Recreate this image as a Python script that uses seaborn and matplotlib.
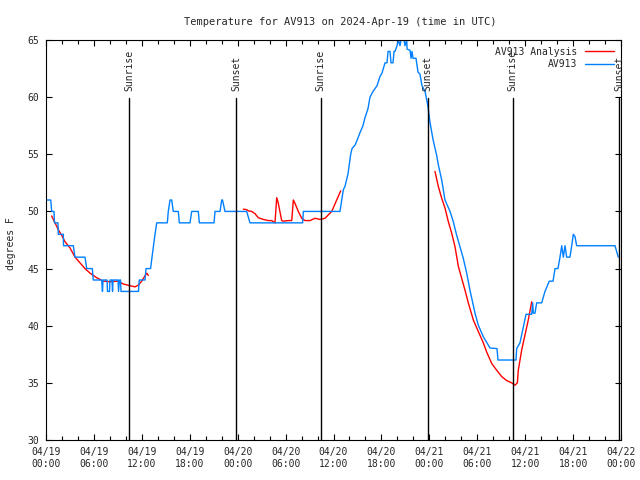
import numpy as np
import pandas as pd
import matplotlib
matplotlib.use("Agg")
import matplotlib.pyplot as plt
import seaborn as sns

# hours since 2024-04-19 00:00 UTC
obs_hours = [0.09, 0.59, 0.71, 1.00, 1.06, 1.50, 1.54, 2.17, 2.19, 3.42, 3.63, 4.88, 5.10, 5.80,
             5.92, 6.97, 7.07, 7.14, 7.64, 7.70, 7.95, 8.01, 8.26, 8.33, 8.39, 9.02, 9.08, 9.20,
             9.33, 9.39, 11.58, 11.68, 12.40, 12.52, 13.09, 13.27, 13.46, 13.65, 13.86, 15.19,
             15.31, 15.53, 15.74, 15.94, 16.57, 16.69, 18.03, 18.24, 19.07, 19.20, 21.04, 21.16,
             21.79, 22.00, 22.10, 22.41, 25.13, 25.54, 32.14, 32.22, 36.81, 37.03, 37.23, 37.44,
             37.82, 38.15, 38.32, 38.69, 38.94, 39.32, 39.69, 39.94, 40.32, 40.57, 40.95, 41.45,
             41.82, 42.07, 42.45, 42.70, 42.83, 43.08, 43.20, 43.45, 43.58, 43.70, 43.95, 44.12,
             44.33, 44.45, 44.83, 44.95, 45.17, 45.21, 45.58, 45.71, 45.83, 45.96, 46.33, 46.58,
             46.83, 47.08, 47.46, 47.83, 48.08, 48.46, 48.92, 49.12, 49.55, 49.96, 50.59, 51.00,
             51.43, 51.84, 52.25, 52.68, 53.09, 53.72, 54.13, 54.76, 55.60, 56.47, 56.60, 58.85,
             58.94, 59.35, 59.77, 60.11, 60.82, 60.94, 61.02, 61.23, 61.44, 62.07, 62.48, 63.02,
             63.49, 63.74, 64.11, 64.36, 64.58, 64.78, 64.99, 65.20, 65.61, 65.83, 66.03, 66.24,
             66.45, 71.25, 71.46, 71.66]
obs_temp = [51, 51, 50, 50, 49, 49, 48, 48, 47, 47, 46, 46, 45, 45,
            44, 44, 43, 44, 44, 43, 43, 44, 44, 43, 44, 44, 43, 44,
            44, 43, 43, 44, 44, 45, 45, 46, 47, 48, 49, 49,
            50, 51, 51, 50, 50, 49, 49, 50, 50, 49, 49, 50,
            50, 51, 51, 50, 50, 49, 49, 50, 50, 51, 51.9, 52.2,
            53.3, 55, 55.5, 55.8, 56.2, 56.9, 57.5, 58.2, 59, 60, 60.5, 61,
            61.8, 62.1, 63, 63, 64, 64, 63, 63, 64, 64, 64.5, 65,
            64.5, 65, 65, 64.5, 65, 64.2, 64.1, 63.4, 64, 63.4, 63.4, 62.2,
            62, 61, 60.5, 59.2, 57.8, 56.3, 54.9, 54.1, 52.75, 51, 50, 49.1,
            47.9, 46.9, 45.9, 44.6, 43.1, 41.1, 40.05, 39.04, 38.05, 38, 37, 37,
            38, 38.5, 39.9, 41, 41, 42, 41.1, 41.1, 42, 42, 43, 43.9,
            43.9, 45, 45, 46, 47, 46, 47, 46, 46, 47, 48, 47.8,
            47, 47, 46.5, 46]

ana_hours_1 = [0.71, 1.13, 1.54, 1.97, 2.38, 3.01, 3.63, 4.26, 4.88, 5.51, 6.35, 7.18, 8.01,
               9.05, 9.68, 10.52, 11.14, 11.56, 11.98, 12.61, 12.81]
ana_temp_1 = [49.6, 49, 48.4, 47.9, 47.35, 46.8, 46.0, 45.5, 45.0, 44.6, 44.2, 43.9, 43.85,
              43.9, 43.65, 43.5, 43.4, 43.55, 43.9, 44.6, 44.4]
ana_hours_2 = [24.71, 25.13, 25.33, 25.76, 26.17, 26.58, 27.21, 27.84, 28.26, 28.67, 28.89, 29.09,
               29.51, 29.71, 30.34, 30.77, 30.97, 31.18, 31.59, 32.02, 32.43, 33.06, 33.68, 34.31,
               34.94, 35.35, 35.78, 36.40, 36.90]
ana_temp_2 = [50.2, 50.15, 50.05, 50, 49.8, 49.45, 49.3, 49.2, 49.2, 49.0, 51.2, 50.7,
              49.2, 49.15, 49.2, 49.2, 51.0, 50.7, 50, 49.4, 49.2, 49.2, 49.4, 49.3,
              49.4, 49.7, 50, 51, 51.8]
ana_hours_3 = [48.71, 49.12, 49.55, 49.96, 50.38, 50.80, 51.22, 51.63, 52.05, 52.47, 52.88, 53.51,
               54.13, 54.76, 55.18, 55.81, 56.44, 57.06, 57.69, 58.32, 58.73, 59.02, 59.14, 59.57,
               59.98, 60.39, 60.82]
ana_temp_3 = [53.5, 52.2, 51.15, 50.3, 49.1, 48.1, 46.9, 45.2, 44.15, 43.1, 42, 40.5,
              39.5, 38.5, 37.7, 36.7, 36.1, 35.55, 35.2, 35.0, 34.8, 35.0, 36.1, 37.9,
              39.2, 40.5, 42.1]

sun_hours = [10.39, 23.79, 34.39, 47.79, 58.44, 71.80]
sun_labels = ["Sunrise", "Sunset", "Sunrise", "Sunset", "Sunrise", "Sunset"]

tick_hours = list(range(0, 73, 6))
tick_labels = ["04/19\n00:00", "04/19\n06:00", "04/19\n12:00", "04/19\n18:00",
               "04/20\n00:00", "04/20\n06:00", "04/20\n12:00", "04/20\n18:00",
               "04/21\n00:00", "04/21\n06:00", "04/21\n12:00", "04/21\n18:00",
               "04/22\n00:00"]

sns.set_style("ticks", {"xtick.direction": "in", "ytick.direction": "in"})
plt.rcParams["font.family"] = ["DejaVu Sans Mono", "DejaVu Sans"]

obs = pd.DataFrame({"hour": obs_hours, "temp": obs_temp})
ana = pd.concat([
    pd.DataFrame({"hour": h, "temp": t, "seg": i})
    for i, (h, t) in enumerate([(ana_hours_1, ana_temp_1), (ana_hours_2, ana_temp_2),
                                (ana_hours_3, ana_temp_3)])
])

fig, ax = plt.subplots(figsize=(6.4, 4.8), dpi=100)
fig.subplots_adjust(left=0.0719, right=0.9703, bottom=0.0833, top=0.9167)

red = "#ff0000"
blue = "#0080ff"
sns.lineplot(data=ana, x="hour", y="temp", units="seg", estimator=None, sort=False,
             color=red, lw=1.0, ax=ax, legend=False)
sns.lineplot(data=obs, x="hour", y="temp", estimator=None, sort=False,
             color=blue, lw=1.0, ax=ax, legend=False)

# sunrise / sunset markers
for h, lab in zip(sun_hours, sun_labels):
    ax.plot([h, h], [30, 59.9], color="black", lw=1.0)
    ax.text(h, 60.5, lab, rotation=90, ha="center", va="bottom", fontsize=7)

ax.set_xlim(0, 72)
ax.set_ylim(30, 65)
ax.set_xticks(tick_hours)
ax.set_xticklabels(tick_labels, fontsize=7)
ax.set_xticks(range(0, 73, 2), minor=True)
ax.set_yticks(range(30, 66, 5))
ax.tick_params(axis="y", labelsize=7, pad=5)
ax.tick_params(which="both", top=True, right=True, length=4, width=0.8, color="black")
ax.tick_params(axis="x", which="major", pad=5)
ax.tick_params(which="minor", length=3)
for s in ax.spines.values():
    s.set_color("black")
    s.set_linewidth(0.8)

ax.set_xlabel("")
ax.set_ylabel("degrees F", fontsize=7)
ax.yaxis.set_label_coords(-0.052, 0.49)

handles = [plt.Line2D([], [], color=red, lw=1.0), plt.Line2D([], [], color=blue, lw=1.0)]
ax.legend(handles, ["AV913 Analysis", "AV913"], loc="upper right", frameon=False,
          markerfirst=False, fontsize=7, handlelength=3.0, handletextpad=0.8,
          labelspacing=0.25, borderaxespad=0.3)

fig.suptitle("Temperature for AV913 on 2024-Apr-19 (time in UTC)", x=0.532, y=0.965,
             fontsize=7.5)

plt.savefig("out.png", dpi=100)
plt.close()
